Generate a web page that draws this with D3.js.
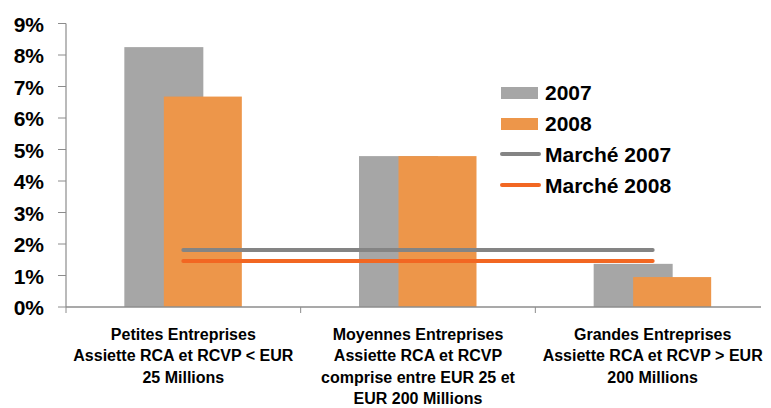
<!DOCTYPE html>
<meta charset="utf-8">
<style>
  body { margin: 0; background: #fff; }
  .ylab { font: bold 21px "Liberation Sans", Arial, sans-serif; fill: #000; }
  .xlab { font: bold 16px "Liberation Sans", Arial, sans-serif; fill: #000; }
  .leg { font: bold 21px "Liberation Sans", Arial, sans-serif; fill: #000; }
</style>
<svg width="771" height="408"></svg>
<script src="https://d3js.org/d3.v7.min.js"></script>
<script>
  // data
  var categories = [
    ["Petites Entreprises", "Assiette RCA et RCVP < EUR", "25 Millions"],
    ["Moyennes Entreprises", "Assiette RCA et RCVP", "comprise entre EUR 25 et", "EUR 200 Millions"],
    ["Grandes Entreprises", "Assiette RCA et RCVP > EUR", "200 Millions"]
  ];
  var values2007 = [8.25, 4.79, 1.37];
  var values2008 = [6.68, 4.79, 0.95];
  var market2007 = 1.81;
  var market2008 = 1.46;
  var yTicks = [0, 1, 2, 3, 4, 5, 6, 7, 8, 9];

  var grey = "#a6a6a6", orange = "#ed964a";
  var lineGrey = "#848484", lineOrange = "#f26722";

  var svg = d3.select("svg");
  var plotLeft = 66, plotRight = 770, plotTop = 23.5, plotBottom = 307;

  var x = d3.scaleBand().domain(d3.range(categories.length)).range([plotLeft, plotRight]);
  var y = d3.scaleLinear().domain([0, 9]).range([plotBottom, plotTop]);
  var bw = 79;

  // y axis
  svg.append("line").attr("x1", plotLeft).attr("x2", plotLeft).attr("y1", y(9)).attr("y2", plotBottom)
    .attr("stroke", "#8c8c8c").attr("stroke-width", 1.2);
  svg.selectAll(".ytick").data(yTicks).enter().append("line")
    .attr("x1", plotLeft - 8).attr("x2", plotLeft).attr("y1", d => y(d)).attr("y2", d => y(d))
    .attr("stroke", "#8c8c8c");
  svg.selectAll(".ylab").data(yTicks).enter().append("text")
    .attr("class", "ylab").attr("x", 44).attr("y", d => y(d) + 8)
    .attr("text-anchor", "end").text(d => d + "%");

  // bars
  svg.selectAll(".b07").data(values2007).enter().append("rect")
    .attr("x", (d, i) => x(i) + x.bandwidth() / 2 - bw + 20)
    .attr("width", bw).attr("y", d => y(d)).attr("height", d => plotBottom - y(d))
    .attr("fill", grey);
  svg.selectAll(".b08").data(values2008).enter().append("rect")
    .attr("x", (d, i) => x(i) + x.bandwidth() / 2 - 19.5)
    .attr("width", bw - 1).attr("y", d => y(d)).attr("height", d => plotBottom - y(d))
    .attr("fill", orange);

  // x axis
  svg.append("line").attr("x1", plotLeft).attr("x2", 761).attr("y1", plotBottom).attr("y2", plotBottom)
    .attr("stroke", "#8c8c8c").attr("stroke-width", 1.5);
  svg.selectAll(".xtick").data(d3.range(categories.length)).enter().append("line")
    .attr("x1", d => x(d)).attr("x2", d => x(d)).attr("y1", plotBottom).attr("y2", plotBottom + 6)
    .attr("stroke", "#8c8c8c");

  // market lines
  var cx0 = x(0) + x.bandwidth() / 2, cx2 = x(2) + x.bandwidth() / 2;
  [[market2007, lineGrey], [market2008, lineOrange]].forEach(function(m) {
    svg.append("line").attr("x1", cx0).attr("x2", cx2).attr("y1", y(m[0])).attr("y2", y(m[0]))
      .attr("stroke", m[1]).attr("stroke-width", 4).attr("stroke-linecap", "round");
  });

  // category labels
  categories.forEach(function(lines, i) {
    var t = svg.append("text").attr("class", "xlab").attr("text-anchor", "middle")
      .attr("x", x(i) + x.bandwidth() / 2);
    lines.forEach(function(l, j) {
      t.append("tspan").attr("x", x(i) + x.bandwidth() / 2).attr("y", 340 + j * 21.3).text(l);
    });
  });

  // legend
  var lg = svg.append("g").attr("transform", "translate(501,0)");
  lg.append("rect").attr("x", 0).attr("y", 87).attr("width", 37).attr("height", 12).attr("fill", grey);
  lg.append("rect").attr("x", 0).attr("y", 118).attr("width", 37).attr("height", 12).attr("fill", orange);
  lg.append("line").attr("x1", 1).attr("x2", 38).attr("y1", 154).attr("y2", 154)
    .attr("stroke", lineGrey).attr("stroke-width", 4).attr("stroke-linecap", "round");
  lg.append("line").attr("x1", 1).attr("x2", 38).attr("y1", 185).attr("y2", 185)
    .attr("stroke", lineOrange).attr("stroke-width", 4).attr("stroke-linecap", "round");
  [["2007", 100], ["2008", 131], ["Marché 2007", 162], ["Marché 2008", 193]].forEach(function(d) {
    lg.append("text").attr("class", "leg").attr("x", 44).attr("y", d[1]).text(d[0]);
  });
</script>
